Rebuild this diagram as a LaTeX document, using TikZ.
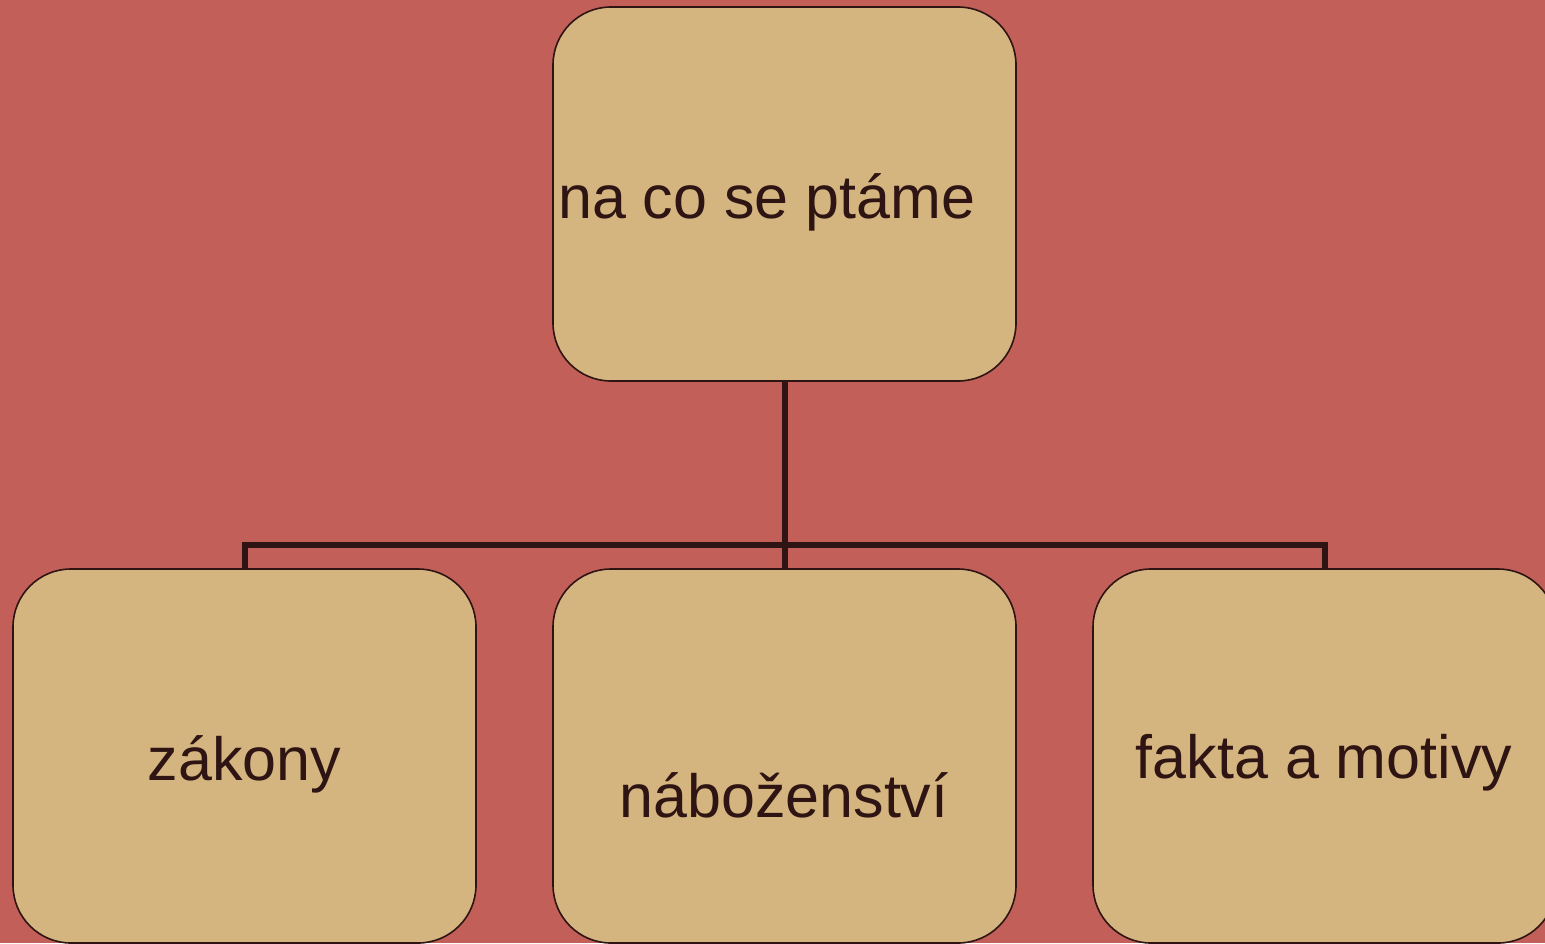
\documentclass[tikz,border=0pt]{standalone}
\usepackage{fontspec}
\setmainfont{Liberation Sans}
\definecolor{bgred}{HTML}{C25F59}
\definecolor{boxtan}{HTML}{D4B580}
\definecolor{ink}{HTML}{2E1412}
\begin{document}
\begin{tikzpicture}[x=1bp,y=-1bp,
  box/.style={draw=ink, fill=boxtan, line width=1.6bp, rounded corners=58bp,
    minimum width=463bp, minimum height=374bp, inner sep=0pt, outer sep=0pt},
  lbl/.style={text=ink, font=\fontsize{61bp}{70bp}\selectfont, inner sep=0pt, anchor=base},
  conn/.style={draw=ink, line width=6bp, line join=miter}]
\fill[bgred] (0,0) rectangle (1545,943);
\useasboundingbox (0,0) rectangle (1545,943);
\node[box] (top) at (784.5,194) {};
\node[box] (zak) at (244.5,756) {};
\node[box] (nab) at (784.5,756) {};
\node[box] (fak) at (1324.5,756) {};
\coordinate (hub) at (784.5,545);
\draw[conn] (top.south) -- (nab.north);
\draw[conn] (zak.north) |- (hub) -| (fak.north);
\node[lbl, anchor=base west] (t1) at (558,218) {na co se ptáme};
\node[lbl] (t2) at (244.5,780) {zákony};
\node[lbl] (t3) at (784,817) {náboženství};
\node[lbl] (t4) at (1324,778) {fakta a motivy};
\end{tikzpicture}
\end{document}
